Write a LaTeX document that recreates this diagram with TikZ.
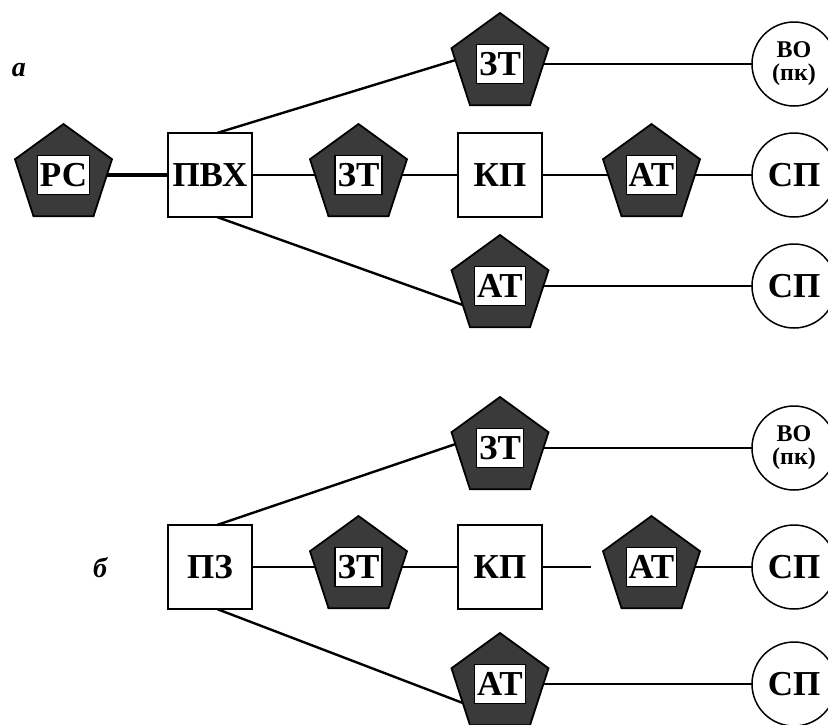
\documentclass[tikz,border=0pt]{standalone}
\usepackage{fontspec}
\setmainfont{Liberation Serif}
\usetikzlibrary{shapes.geometric}
\definecolor{pentfill}{HTML}{3A3A3A}
\tikzset{
  pent/.style={regular polygon, regular polygon sides=5, minimum size=102pt,
    inner sep=0pt, outer sep=0pt, draw=black, line width=1.8pt, fill=pentfill,
    label={[lblbox]center:#1}},
  lblbox/.style={draw=black, line width=1.3pt, fill=white, inner sep=2.5pt,
    minimum height=39pt, font=\bfseries\fontsize{35}{35}\selectfont},
  sq/.style={draw=black, line width=1.6pt, fill=white, minimum size=84pt,
    inner sep=0pt, outer sep=0pt, font=\bfseries\fontsize{35}{35}\selectfont},
  circ/.style={circle, draw=black, line width=1.5pt, fill=white, minimum size=84pt,
    inner sep=0pt, outer sep=0pt, font=\bfseries\fontsize{35}{35}\selectfont},
  circs/.style={circ, align=center, font=\bfseries\fontsize{24}{23}\selectfont},
  conn/.style={line width=2.4pt},
  connthick/.style={line width=3.6pt},
  tag/.style={font=\bfseries\itshape\fontsize{28}{28}\selectfont, inner sep=0pt},
}
\begin{document}
\begin{tikzpicture}[x=1pt,y=-1pt]
\useasboundingbox (0,0) rectangle (828,724);
\clip (0,0) rectangle (828,724);
% ---------- a ----------
\node[tag] (la) at (19,70) {а};
\node[pent={РС}] (rc) at (63.5,175) {};
\node[sq] (pvx) at (210,175) {ПВХ};
\node[pent={ЗТ}] (zta) at (358.5,175) {};
\node[sq] (kpa) at (500,175) {КП};
\node[pent={АТ}] (ata) at (651.5,175) {};
\node[circ] (spa) at (794,175) {СП};
\node[pent={ЗТ}] (ztatop) at (500,64) {};
\node[circs] (voa) at (794,64) {ВО\\(пк)};
\node[pent={АТ}] (atabot) at (500,286) {};
\node[circ] (spabot) at (794,286) {СП};
\draw[connthick] (rc) -- (pvx);
\draw[conn] (pvx) -- (zta);
\draw[conn] (zta) -- (kpa);
\draw[conn] (kpa) -- (ata);
\draw[conn] (ata) -- (spa);
\draw[conn] (ztatop.east) -- (voa.west);
\draw[conn] (atabot.east) -- (spabot.west);
\draw[conn] ([xshift=7pt]pvx.north) -- (ztatop.175);
\draw[conn] ([xshift=7pt]pvx.south) -- (atabot.207);
% ---------- b ----------
\node[tag] (lb) at (100,568) {б};
\node[sq] (pz) at (210,567) {ПЗ};
\node[pent={ЗТ}] (ztb) at (358.5,567) {};
\node[sq] (kpb) at (500,567) {КП};
\node[pent={АТ}] (atb) at (651.5,567) {};
\node[circ] (spb) at (794,567) {СП};
\node[pent={ЗТ}] (ztbtop) at (500,448) {};
\node[circs] (vob) at (794,448) {ВО\\(пк)};
\node[pent={АТ}] (atbbot) at (500,684) {};
\node[circ] (spbbot) at (794,684) {СП};
\draw[conn] (pz) -- (ztb);
\draw[conn] (ztb) -- (kpb);
\draw[conn, shorten >=17pt] (kpb) -- (atb);
\draw[conn] (atb) -- (spb);
\draw[conn] (ztbtop.east) -- (vob.west);
\draw[conn] (atbbot.east) -- (spbbot.west);
\draw[conn] ([xshift=7pt]pz.north) -- (ztbtop.175);
\draw[conn] ([xshift=7pt]pz.south) -- (atbbot.207);
\end{tikzpicture}
\end{document}
